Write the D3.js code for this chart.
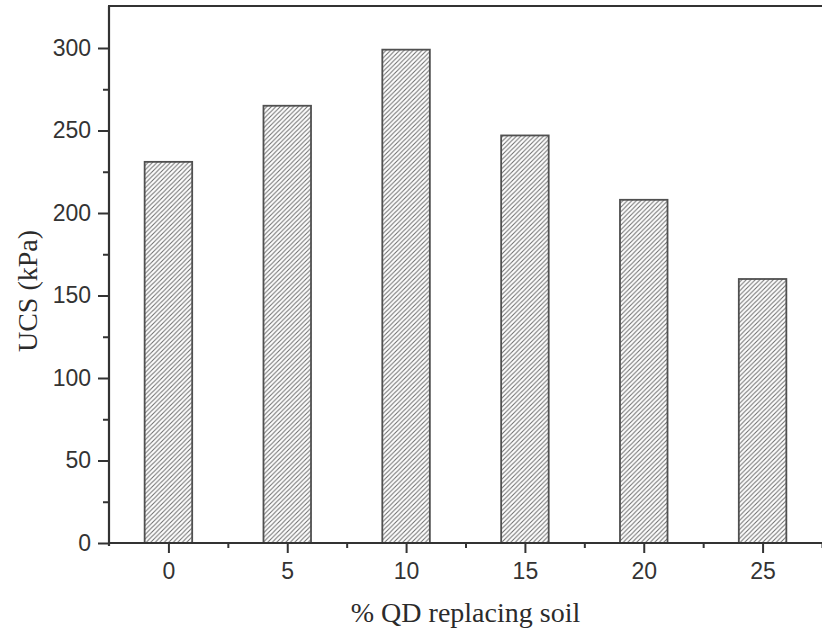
<!DOCTYPE html>
<html>
<head>
<meta charset="utf-8">
<script src="https://cdn.jsdelivr.net/npm/d3@7"></script>
<style>
	body { margin: 0; background: #fff; }
	svg { display: block; }
</style>
</head>
<body>
<div id="chart"></div>
<script>
// % QD replacing soil vs UCS
const categories = [0, 5, 10, 15, 20, 25];
const ucsValues = [231, 265, 299, 247, 208, 160];
const yTickValues = [0, 50, 100, 150, 200, 250, 300];
const yMinorValues = [25, 75, 125, 175, 225, 275];
const xMinorValues = [2.5, 7.5, 12.5, 17.5, 22.5, 27.5];
const xTitle = "% QD replacing soil";
const yTitle = "UCS (kPa)";

{
	const width = 822, height = 633;
	const margin = { top: 6, right: 0, bottom: 90, left: 109 };
	const axisColor = "#333";

	const svg = d3.select("#chart").append("svg")
		.attr("width", width)
		.attr("height", height);

	// hatch for the bars
	const defs = svg.append("defs");
	defs.append("pattern")
		.attr("id", "hatch")
		.attr("patternUnits", "userSpaceOnUse")
		.attr("width", 4.5)
		.attr("height", 4.5)
		.call(p => p.append("rect").attr("width", 4.5).attr("height", 4.5).attr("fill", "#fff"))
		.append("path")
			.attr("d", "M-1,1 l2,-2 M0,4.5 l4.5,-4.5 M3.5,5.5 l2,-2")
			.attr("stroke", "#6a6a6a")
			.attr("stroke-width", 1);

	const x = d3.scaleLinear()
		.domain([-2.5, 27.5])
		.range([margin.left, width - margin.right]);

	const y = d3.scaleLinear()
		.domain([0, 300])
		.range([543, 48]);

	const barWidth = x(2) - x(0);

	svg.append("g")
		.selectAll("rect")
		.data(categories)
		.enter().append("rect")
			.attr("x", (d) => x(d) - barWidth / 2)
			.attr("y", (d, i) => y(ucsValues[i]))
			.attr("width", barWidth)
			.attr("height", (d, i) => y(0) - y(ucsValues[i]))
			.attr("fill", "url(#hatch)")
			.attr("stroke", "#505050")
			.attr("stroke-width", 1.8);

	// y axis, major + minor
	svg.append("g")
		.attr("transform", `translate(${margin.left},0)`)
		.call(d3.axisLeft(y).tickValues(yTickValues).tickSize(11).tickPadding(7).tickFormat(d3.format("d")));
	svg.append("g")
		.attr("transform", `translate(${margin.left},0)`)
		.call(d3.axisLeft(y).tickValues(yMinorValues).tickSize(6).tickFormat(""));

	// x axis, major + minor
	svg.append("g")
		.attr("transform", `translate(0,${y(0)})`)
		.call(d3.axisBottom(x).tickValues(categories).tickSize(10).tickPadding(10).tickFormat(d3.format("d")));
	svg.append("g")
		.attr("transform", `translate(0,${y(0)})`)
		.call(d3.axisBottom(x).tickValues(xMinorValues).tickSize(5).tickFormat(""));

	svg.selectAll(".domain").remove();
	svg.selectAll(".tick line")
		.attr("stroke", axisColor)
		.attr("stroke-width", 2);
	svg.selectAll(".tick text")
		.attr("fill", "#333")
		.style("font-family", "'Liberation Sans', Arial, sans-serif")
		.style("font-size", "23px");

	// frame lines: left, bottom, top
	const frame = svg.append("g")
		.attr("stroke", axisColor)
		.attr("stroke-width", 2.2);
	frame.append("line")
		.attr("x1", margin.left).attr("x2", margin.left)
		.attr("y1", margin.top).attr("y2", y(0) + 3);
	frame.append("line")
		.attr("x1", margin.left).attr("x2", width)
		.attr("y1", y(0)).attr("y2", y(0));
	frame.append("line")
		.attr("x1", margin.left - 1).attr("x2", width)
		.attr("y1", margin.top).attr("y2", margin.top);

	// titles
	svg.append("text")
		.attr("x", (margin.left + width) / 2)
		.attr("y", 622)
		.attr("text-anchor", "middle")
		.attr("fill", "#2b2b2b")
		.style("font-family", "'Liberation Serif', 'Times New Roman', serif")
		.style("font-size", "28px")
		.text(xTitle);

	svg.append("text")
		.attr("transform", "translate(37,291) rotate(-90)")
		.attr("text-anchor", "middle")
		.attr("fill", "#2b2b2b")
		.style("font-family", "'Liberation Serif', 'Times New Roman', serif")
		.style("font-size", "28px")
		.text(yTitle);
}
</script>
</body>
</html>
